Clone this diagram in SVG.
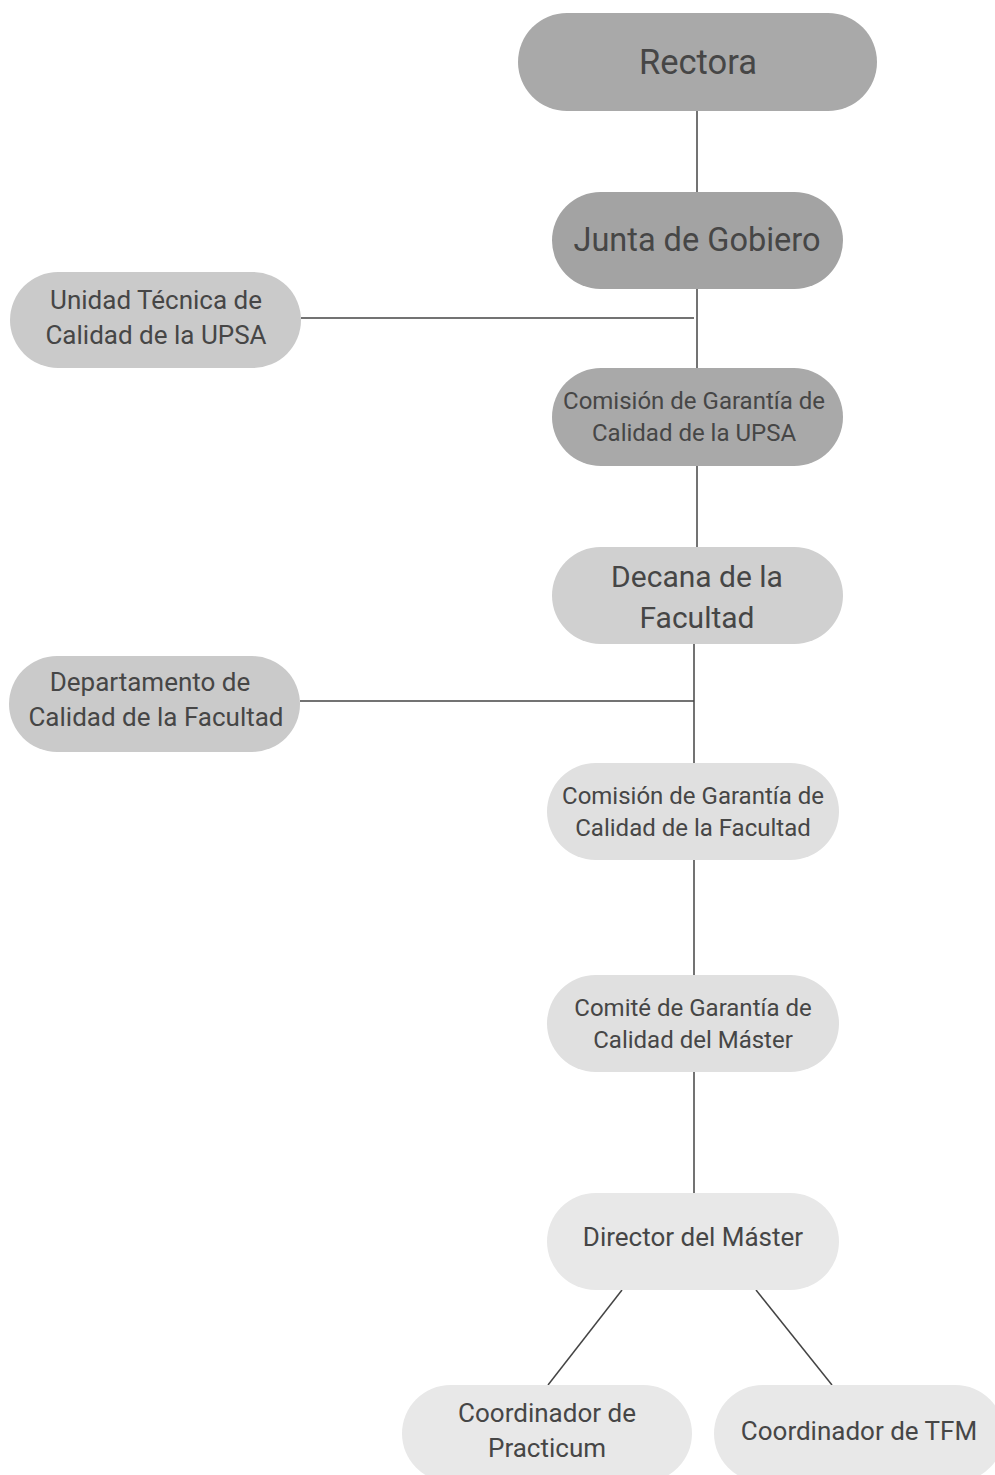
<svg xmlns="http://www.w3.org/2000/svg" width="995" height="1475" viewBox="0 0 995 1475">
<style>
text{font-family:Roboto,"Liberation Sans",sans-serif;fill:#464646;text-anchor:middle;dominant-baseline:central}
.e{stroke:#444;stroke-width:1.5;fill:none}
.s{font-size:24px}
.m{font-size:26px}
</style>
<rect width="995" height="1475" fill="#fff"/>
<g id="connectors">
<line class="e" x1="697" y1="111" x2="697" y2="192"/>
<line class="e" x1="697" y1="289" x2="697" y2="368"/>
<line class="e" x1="301" y1="318" x2="694" y2="318"/>
<line class="e" x1="697" y1="466" x2="697" y2="547"/>
<line class="e" x1="694" y1="644" x2="694" y2="763"/>
<line class="e" x1="300" y1="701" x2="694" y2="701"/>
<line class="e" x1="694" y1="860" x2="694" y2="975"/>
<line class="e" x1="694" y1="1072" x2="694" y2="1193"/>
<line class="e" x1="622" y1="1290" x2="548" y2="1385"/>
<line class="e" x1="756" y1="1290" x2="832" y2="1385"/>
</g>
<g id="rectora"><rect x="518" y="13" width="359" height="98" rx="49" fill="#a9a9a9"/><text x="698" y="62" font-size="34.5">Rectora</text></g>
<g id="junta"><rect x="552" y="192" width="291" height="97" rx="48.5" fill="#a3a3a3"/><text x="697" y="240" font-size="32.5">Junta de Gobiero</text></g>
<g id="unidad"><rect x="10" y="272" width="291" height="96" rx="48" fill="#cacaca"/><text class="m" x="156" y="300">Unidad Técnica de</text><text class="m" x="156" y="335">Calidad de la UPSA</text></g>
<g id="comision-upsa"><rect x="552" y="368" width="291" height="98" rx="49" fill="#a9a9a9"/><text class="s" x="694" y="401">Comisión de Garantía de</text><text class="s" x="694" y="433">Calidad de la UPSA</text></g>
<g id="decana"><rect x="552" y="547" width="291" height="97" rx="48.5" fill="#d0d0d0"/><text x="697" y="576" font-size="30">Decana de la</text><text x="697" y="617" font-size="30">Facultad</text></g>
<g id="departamento"><rect x="9" y="656" width="291" height="96" rx="48" fill="#cacaca"/><text class="m" x="150" y="682">Departamento de</text><text class="m" x="156" y="717">Calidad de la Facultad</text></g>
<g id="comision-facultad"><rect x="547" y="763" width="292" height="97" rx="48.5" fill="#e0e0e0"/><text class="s" x="693" y="796">Comisión de Garantía de</text><text class="s" x="693" y="828">Calidad de la Facultad</text></g>
<g id="comite"><rect x="547" y="975" width="292" height="97" rx="48.5" fill="#e0e0e0"/><text class="s" x="693" y="1008">Comité de Garantía de</text><text class="s" x="693" y="1040">Calidad del Máster</text></g>
<g id="director"><rect x="547" y="1193" width="292" height="97" rx="48.5" fill="#e8e8e8"/><text class="m" x="693" y="1237">Director del Máster</text></g>
<g id="practicum"><rect x="402" y="1385" width="290" height="97" rx="48.5" fill="#e8e8e8"/><text class="m" x="547" y="1413">Coordinador de</text><text class="m" x="547" y="1448">Practicum</text></g>
<g id="tfm"><rect x="714" y="1385" width="290" height="97" rx="48.5" fill="#e8e8e8"/><text class="m" x="859" y="1431">Coordinador de TFM</text></g>
</svg>
